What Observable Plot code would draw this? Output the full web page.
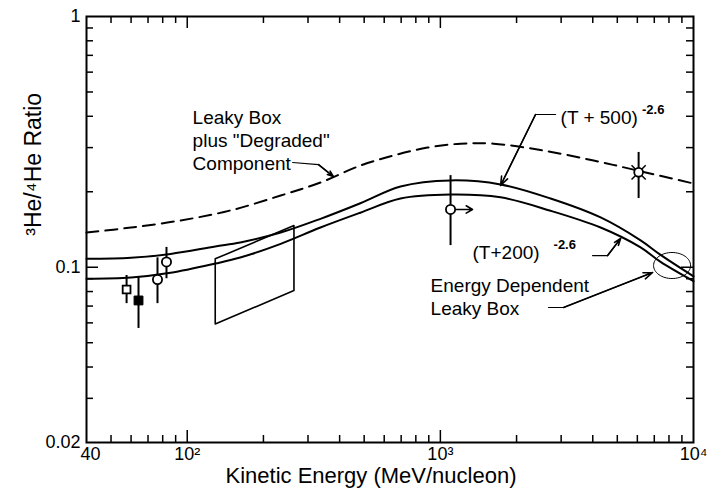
<!DOCTYPE html>
<html>
<head>
<meta charset="utf-8">
<script src="https://cdn.jsdelivr.net/npm/d3@7"></script>
<script src="https://cdn.jsdelivr.net/npm/@observablehq/plot@0.6"></script>
<style>
  body { margin: 0; background: #fff; }
  #chart { width: 724px; height: 495px; }
</style>
</head>
<body>
<div id="chart"></div>
<script>
// ---- model curves (kinetic energy in MeV/nucleon, 3He/4He ratio) ----
const curveEnergy = [40, 60, 86, 129, 162, 234, 336, 483, 696, 1097, 1729, 2725, 4296, 6180, 7413, 10000];
const ratioT500 = [0.108, 0.109, 0.113, 0.121, 0.1255, 0.1375, 0.156, 0.180, 0.210, 0.222, 0.214, 0.188, 0.158, 0.128, 0.112, 0.092];
const ratioT200 = [0.090, 0.091, 0.095, 0.1034, 0.1093, 0.124, 0.144, 0.165, 0.188, 0.195, 0.190, 0.168, 0.144, 0.120, 0.105, 0.088];

const degradedEnergy = [40, 60, 94, 148, 234, 336, 483, 653, 890, 1202, 1622, 2556, 4030, 6013, 10000];
const ratioDegraded = [0.1375, 0.144, 0.1536, 0.1684, 0.1932, 0.2177, 0.2544, 0.279, 0.300, 0.311, 0.311, 0.292, 0.2665, 0.243, 0.2157];

// ---- measurement box (parallelogram) ----
const boxEnergy = [129, 129, 264, 264, 129];
const boxRatio = [0.108, 0.0594, 0.0807, 0.1466, 0.108];

// ---- data points ----
const pointEnergy = [57.6, 64.2, 76.3, 82.8, 1097, 6070];
const pointRatio = [0.0815, 0.0737, 0.0893, 0.105, 0.170, 0.239];
const pointLow = [0.0716, 0.057, 0.0716, 0.090, 0.122, 0.188];
const pointHigh = [0.0927, 0.0911, 0.109, 0.120, 0.232, 0.287];
const pointKind = ["openSquare", "filledSquare", "openCircle", "openCircle", "openCircle", "star"];
const limitArrowEnergy = [1097, 1340];
const limitArrowRatio = 0.170;

// ---- axis ticks ----
const xMinorTicks = [50, 60, 70, 80, 90, 200, 300, 400, 500, 600, 700, 800, 900, 2000, 3000, 4000, 5000, 6000, 7000, 8000, 9000];
const xMajorTicks = [100, 1000];
const xLabelTicks = [40, 100, 1000, 10000];
const xLabelText = ["40", "10²", "10³", "10⁴"];
const yMinorTicks = [0.03, 0.04, 0.05, 0.06, 0.07, 0.08, 0.09, 0.2, 0.3, 0.4, 0.5, 0.6, 0.7, 0.8, 0.9];
const yMajorTicks = [0.1];
const yLabelTicks = [0.02, 0.1, 1];
const yLabelText = ["0.02", "0.1", "1"];
const xTitle = "Kinetic Energy (MeV/nucleon)";
const yTitle = "³He/⁴He Ratio";
const yTitleRatio = 0.1336;

// ---- annotations (anchor positions in data units) ----
const noteText = ["Leaky Box", "plus \"Degraded\"", "Component", "(T + 500)", "(T+200)", "Energy Dependent", "Leaky Box"];
const noteEnergy = [105, 105, 105, 2984, 1340, 915, 915];
const noteRatio = [0.3956, 0.320, 0.259, 0.3956, 0.1144, 0.0845, 0.0684];
const supText = ["-2.6", "-2.6"];
const supEnergy = [6260, 2800];
const supRatio = [0.4256, 0.1232];

const leaderId = ["a", "a", "a", "b", "b", "b", "c", "c", "c", "d", "d", "d"];
const leaderEnergy = [261, 330, 378, 2852, 2377, 1729, 3993, 4577, 5152, 2676, 3067, 6892];
const leaderRatio = [0.2617, 0.2568, 0.230, 0.4066, 0.4066, 0.2118, 0.1113, 0.1113, 0.1302, 0.0691, 0.0691, 0.0953];

const ellipseCenter = [8228, 0.1016];
const ellipseRadiiDecades = [0.0731, 0.0519];

// ---- layout ----
const W = 724, H = 495, ML = 86, MR = 31, MT = 16, MB = 53;
const FW = W - ML - MR, FH = H - MT - MB;
const minorLen = 7, majorLen = 12;

// ---- build tables ----
const t500 = curveEnergy.map((T, i) => ({T, r: ratioT500[i]}));
const t200 = curveEnergy.map((T, i) => ({T, r: ratioT200[i]}));
const degraded = degradedEnergy.map((T, i) => ({T, r: ratioDegraded[i]}));
const box = boxEnergy.map((T, i) => ({T, r: boxRatio[i]}));
const points = pointEnergy.map((T, i) => ({T, r: pointRatio[i], lo: pointLow[i], hi: pointHigh[i], kind: pointKind[i]}));
const notes = noteText.map((text, i) => ({text, T: noteEnergy[i], r: noteRatio[i]}));
const sups = supText.map((text, i) => ({text, T: supEnergy[i], r: supRatio[i]}));
const leaders = leaderId.map((id, i) => ({id, T: leaderEnergy[i], r: leaderRatio[i]}));
const leaderHeads = Array.from(d3.group(leaders, d => d.id).values()).map(g => {
  const a = g[g.length - 2], b = g[g.length - 1];
  return {T1: a.T, r1: a.r, T2: b.T, r2: b.r};
});
const xLabels = xLabelTicks.map((t, i) => ({t, text: xLabelText[i]}));
const yLabels = yLabelTicks.map((t, i) => ({t, text: yLabelText[i]}));
const ellipse = d3.range(0, 65).map(k => {
  const a = (k / 64) * 2 * Math.PI;
  return {
    T: ellipseCenter[0] * Math.pow(10, ellipseRadiiDecades[0] * Math.cos(a)),
    r: ellipseCenter[1] * Math.pow(10, ellipseRadiiDecades[1] * Math.sin(a))
  };
});
const byKind = k => points.filter(p => p.kind === k);

const chart = Plot.plot({
  width: W,
  height: H,
  marginLeft: ML,
  marginRight: MR,
  marginTop: MT,
  marginBottom: MB,
  style: {fontFamily: "Liberation Sans, Arial, sans-serif", background: "#fff", color: "#000"},
  x: {type: "log", domain: [40, 10000], axis: null},
  y: {type: "log", domain: [0.02, 1], axis: null},
  marks: [
    // inward ticks on all four sides
    Plot.ruleX(xMinorTicks, {x: d => d, insetTop: FH - minorLen, strokeWidth: 1.5}),
    Plot.ruleX(xMajorTicks, {x: d => d, insetTop: FH - majorLen, strokeWidth: 1.5}),
    Plot.ruleX(xMinorTicks, {x: d => d, insetBottom: FH - minorLen, strokeWidth: 1.5}),
    Plot.ruleX(xMajorTicks, {x: d => d, insetBottom: FH - majorLen, strokeWidth: 1.5}),
    Plot.ruleY(yMinorTicks, {y: d => d, insetRight: FW - minorLen, strokeWidth: 1.5}),
    Plot.ruleY(yMajorTicks, {y: d => d, insetRight: FW - majorLen, strokeWidth: 1.5}),
    Plot.ruleY(yMinorTicks, {y: d => d, insetLeft: FW - minorLen, strokeWidth: 1.5}),
    Plot.ruleY(yMajorTicks, {y: d => d, insetLeft: FW - majorLen, strokeWidth: 1.5}),

    // model curves
    Plot.line(degraded, {x: "T", y: "r", curve: "catmull-rom", strokeWidth: 2, strokeDasharray: "12,7"}),
    Plot.line(t500, {x: "T", y: "r", curve: "catmull-rom", strokeWidth: 2}),
    Plot.line(t200, {x: "T", y: "r", curve: "catmull-rom", strokeWidth: 2}),
    // box
    Plot.line(box, {x: "T", y: "r", strokeWidth: 1.6}),
    // ellipse
    Plot.line(ellipse, {x: "T", y: "r", curve: "linear", strokeWidth: 1}),

    // error bars and points
    Plot.ruleX(points, {x: "T", y1: "lo", y2: "hi", strokeWidth: 2}),
    Plot.arrow([0], {x1: () => limitArrowEnergy[0], x2: () => limitArrowEnergy[1], y1: () => limitArrowRatio, y2: () => limitArrowRatio, strokeWidth: 1.6, headLength: 8}),
    Plot.dot(byKind("star"), {x: "T", y: "r", symbol: "times", r: 6.5, stroke: "black", strokeWidth: 1.5}),
    Plot.dot(byKind("openSquare"), {x: "T", y: "r", symbol: "square", r: 4.4, fill: "white", stroke: "black", strokeWidth: 1.8}),
    Plot.dot(byKind("filledSquare"), {x: "T", y: "r", symbol: "square", r: 5, fill: "black", stroke: "black", strokeWidth: 1}),
    Plot.dot(byKind("openCircle"), {x: "T", y: "r", symbol: "circle", r: 4.6, fill: "white", stroke: "black", strokeWidth: 1.8}),
    Plot.dot(byKind("star"), {x: "T", y: "r", symbol: "circle", r: 4.4, fill: "white", stroke: "black", strokeWidth: 1.8}),

    // annotation leaders with arrowheads
    Plot.line(leaders, {x: "T", y: "r", z: "id", strokeWidth: 1.2, curve: "linear"}),
    Plot.arrow(leaderHeads, {x1: "T1", y1: "r1", x2: "T2", y2: "r2", strokeWidth: 1.6, headLength: 9, headAngle: 40}),
    Plot.text(notes, {x: "T", y: "r", text: "text", textAnchor: "start", fontSize: 19}),
    Plot.text(sups, {x: "T", y: "r", text: "text", textAnchor: "start", fontSize: 13, fontWeight: "bold"}),

    // tick labels and axis titles
    Plot.text(xLabels.filter(d => d.t === 40), {x: "t", text: "text", frameAnchor: "bottom", lineAnchor: "top", dy: 5, dx: 4, fontSize: 18}),
    Plot.text(xLabels.filter(d => d.t !== 40), {x: "t", text: "text", frameAnchor: "bottom", lineAnchor: "top", dy: 5, fontSize: 18}),
    Plot.text(yLabels, {y: "t", text: "text", frameAnchor: "left", textAnchor: "end", dx: -6, fontSize: 18}),
    Plot.text([xTitle], {frameAnchor: "bottom", text: d => d, dy: 40, dx: -19, fontSize: 22}),
    Plot.text([yTitle], {y: () => yTitleRatio, frameAnchor: "left", text: d => d, rotate: -90, dx: -53, fontSize: 23}),

    Plot.frame({strokeWidth: 2})
  ]
});

document.getElementById("chart").appendChild(chart);
</script>
</body>
</html>
